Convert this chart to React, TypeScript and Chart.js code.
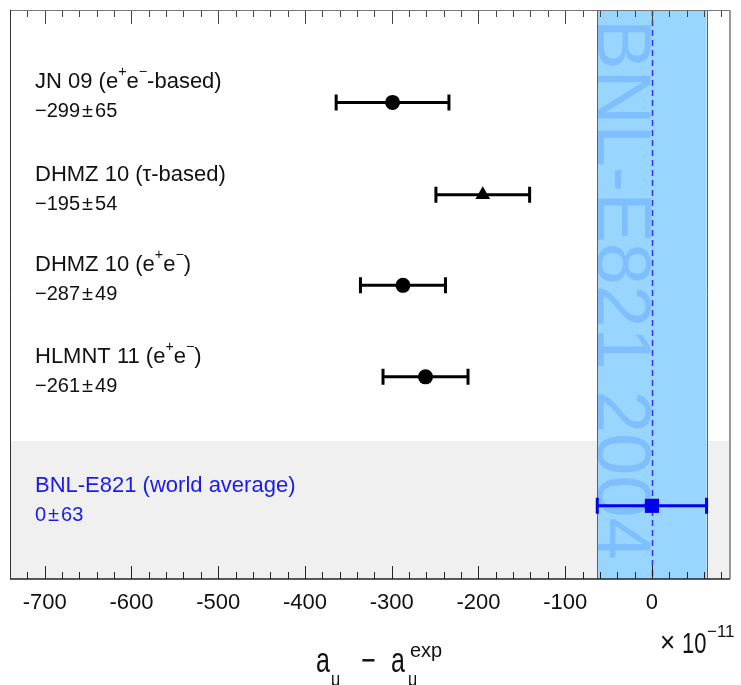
import React, { useEffect, useRef } from 'react';
import { Chart, registerables } from 'chart.js';

Chart.register(...registerables);

const FONT = '"Liberation Sans", Arial, Helvetica, sans-serif';

// ---- data ----
const CATEGORIES = [
  'JN 09 (e^{+}e^{\u2212}-based)',
  'DHMZ 10 (\u03c4-based)',
  'DHMZ 10 (e^{+}e^{\u2212})',
  'HLMNT 11 (e^{+}e^{\u2212})',
  'BNL-E821 (world average)',
];
const CENTRAL = [-299, -195, -287, -261, 0];
const ERRORS = [65, 54, 49, 49, 63];
const MARKERS = ['circle', 'triangle', 'circle', 'circle', 'rect'];
const X_TICKS = [-700, -600, -500, -400, -300, -200, -100, 0];
const BAND_LABEL = 'BNL-E821 2004';

// ---- layout / style ----
const X_MIN = -740;
const X_MAX = 90;
const Y_MAX = 6.22;
const ROW_POS = [1.01, 2.02, 3.01, 4.01, 5.42];
const GRAY_START = 4.71;
const COLORS = ['#000000', '#000000', '#000000', '#000000', '#0000ee'];
const LABEL_COLORS = ['#111111', '#111111', '#111111', '#111111', '#1a1aee'];
const RADII = [7.5, 8.5, 7.5, 7.5, 10];

function fmtVal(v: number) {
  return v < 0 ? '\u2212' + Math.abs(v) : String(v);
}

function drawRich(ctx: CanvasRenderingContext2D, text: string, x: number, y: number, size: number, color: string) {
  ctx.fillStyle = color;
  ctx.textBaseline = 'alphabetic';
  ctx.textAlign = 'left';
  const re = /\^\{([^}]*)\}|_\{([^}]*)\}|([^^_]+)/g;
  let m: RegExpExecArray | null;
  let cx = x;
  while ((m = re.exec(text))) {
    if (m[1] !== undefined) {
      ctx.font = `${size * 0.65}px ${FONT}`;
      ctx.fillText(m[1], cx, y - size * 0.55);
      cx += ctx.measureText(m[1]).width;
    } else if (m[2] !== undefined) {
      ctx.font = `${size * 0.65}px ${FONT}`;
      ctx.fillText(m[2], cx, y + size * 0.3);
      cx += ctx.measureText(m[2]).width;
    } else {
      ctx.font = `${size}px ${FONT}`;
      ctx.fillText(m[3], cx, y);
      cx += ctx.measureText(m[3]).width;
    }
  }
}

function drawValue(ctx: CanvasRenderingContext2D, c: number, e: number, x: number, y: number, size: number, color: string) {
  ctx.fillStyle = color;
  ctx.font = `${size}px ${FONT}`;
  ctx.textBaseline = 'alphabetic';
  ctx.textAlign = 'left';
  const parts = [fmtVal(c), '\u00b1', String(e)];
  let cx = x;
  parts.forEach((p, i) => {
    ctx.fillText(p, cx, y);
    cx += ctx.measureText(p).width + (i < 2 ? 2 : 0);
  });
}

function stretchedText(ctx: CanvasRenderingContext2D, t: string, x: number, y: number, size: number, sy: number) {
  ctx.save();
  ctx.translate(x, y);
  ctx.scale(1, sy);
  ctx.font = `${size}px ${FONT}`;
  ctx.fillText(t, 0, 0);
  ctx.restore();
}

const decor = {
  id: 'decor',
  beforeDatasetsDraw(chart: any) {
    const { ctx, chartArea: a, scales } = chart;
    const x = scales.x;
    const y = scales.y;
    ctx.save();
    const gy = y.getPixelForValue(GRAY_START);
    ctx.fillStyle = '#f0f0f0';
    ctx.fillRect(a.left, gy, a.right - a.left, a.bottom - gy);

    const bi = CENTRAL.length - 1;
    const bl = x.getPixelForValue(CENTRAL[bi] - ERRORS[bi]);
    const br = x.getPixelForValue(CENTRAL[bi] + ERRORS[bi]);
    ctx.fillStyle = '#99d6ff';
    ctx.fillRect(bl, a.top, br - bl, a.bottom - a.top);

    ctx.save();
    ctx.translate(bl + 1, a.top + 9);
    ctx.rotate(Math.PI / 2);
    ctx.font = `76px ${FONT}`;
    ctx.fillStyle = '#7fbfff';
    ctx.textBaseline = 'alphabetic';
    ctx.textAlign = 'left';
    ctx.fillText(BAND_LABEL, 0, 0);
    ctx.restore();

    ctx.strokeStyle = '#4d4dff';
    ctx.lineWidth = 1;
    [bl, br].forEach((px) => {
      ctx.beginPath();
      ctx.moveTo(Math.round(px) + 0.5, a.top);
      ctx.lineTo(Math.round(px) + 0.5, a.bottom);
      ctx.stroke();
    });
    const cx0 = Math.round(x.getPixelForValue(CENTRAL[bi])) + 0.5;
    ctx.strokeStyle = '#3333ff';
    ctx.lineWidth = 1.5;
    ctx.setLineDash([6, 4]);
    ctx.beginPath();
    ctx.moveTo(cx0, a.top);
    ctx.lineTo(cx0, a.bottom);
    ctx.stroke();
    ctx.setLineDash([]);

    // error bars
    CENTRAL.forEach((c, i) => {
      const xl = x.getPixelForValue(c - ERRORS[i]);
      const xr = x.getPixelForValue(c + ERRORS[i]);
      const yc = y.getPixelForValue(ROW_POS[i]);
      ctx.strokeStyle = COLORS[i];
      ctx.lineWidth = 3;
      ctx.beginPath();
      ctx.moveTo(xl, yc);
      ctx.lineTo(xr, yc);
      ctx.moveTo(xl, yc - 8);
      ctx.lineTo(xl, yc + 8);
      ctx.moveTo(xr, yc - 8);
      ctx.lineTo(xr, yc + 8);
      ctx.stroke();
    });
    ctx.restore();
  },
  afterDatasetsDraw(chart: any) {
    const { ctx, chartArea: a, scales } = chart;
    const x = scales.x;
    const y = scales.y;
    ctx.save();
    // ticks
    ctx.lineWidth = 1;
    for (let v = Math.ceil(X_MIN / 20) * 20; v <= X_MAX; v += 20) {
      const px = Math.round(x.getPixelForValue(v)) + 0.5;
      if (px <= a.left + 1 || px >= a.right - 1) continue;
      const major = v % 100 === 0;
      ctx.strokeStyle = '#222222';
      ctx.beginPath();
      ctx.moveTo(px, a.bottom);
      ctx.lineTo(px, a.bottom - (major ? 13 : 7));
      ctx.stroke();
      ctx.strokeStyle = '#444444';
      ctx.beginPath();
      ctx.moveTo(px, a.top);
      ctx.lineTo(px, a.top + (major ? 14 : 7));
      ctx.stroke();
    }
    // frame
    ctx.strokeStyle = '#777777';
    ctx.beginPath();
    ctx.moveTo(a.left, a.top + 0.5);
    ctx.lineTo(a.right, a.top + 0.5);
    ctx.stroke();
    ctx.strokeStyle = '#333333';
    ctx.beginPath();
    ctx.moveTo(a.left + 0.5, a.top);
    ctx.lineTo(a.left + 0.5, a.bottom);
    ctx.stroke();
    ctx.strokeStyle = '#999999';
    ctx.lineWidth = 2;
    ctx.beginPath();
    ctx.moveTo(a.right, a.top);
    ctx.lineTo(a.right, a.bottom);
    ctx.stroke();
    ctx.strokeStyle = '#222222';
    ctx.lineWidth = 1.5;
    ctx.beginPath();
    ctx.moveTo(a.left, a.bottom);
    ctx.lineTo(a.right, a.bottom);
    ctx.stroke();

    // row labels
    CATEGORIES.forEach((t, i) => {
      const yc = y.getPixelForValue(ROW_POS[i]);
      drawRich(ctx, t, 35, yc - 14, 22, LABEL_COLORS[i]);
      drawValue(ctx, CENTRAL[i], ERRORS[i], 35, yc + 15, 20, LABEL_COLORS[i]);
    });

    // axis title: a_mu - a_mu^exp
    ctx.fillStyle = '#111111';
    ctx.textBaseline = 'alphabetic';
    ctx.textAlign = 'left';
    stretchedText(ctx, 'a', 316, 672, 25, 1.4);
    stretchedText(ctx, '\u03bc', 331, 686, 16, 1.3);
    stretchedText(ctx, '\u2212', 361, 672, 25, 1.4);
    stretchedText(ctx, 'a', 391, 672, 25, 1.4);
    stretchedText(ctx, 'exp', 410, 657, 20, 1.05);
    stretchedText(ctx, '\u03bc', 408, 686, 16, 1.3);

    // x10^-11
    stretchedText(ctx, '\u00d7', 660, 652, 26, 1.15);
    stretchedText(ctx, '10', 682, 653, 22, 1.35);
    stretchedText(ctx, '\u221211', 707, 637, 17, 1.0);
    ctx.restore();
  },
};

export default function App() {
  const ref = useRef<HTMLCanvasElement | null>(null);
  useEffect(() => {
    if (!ref.current) return;
    const chart = new Chart(ref.current, {
      type: 'scatter',
      data: {
        datasets: [
          {
            data: CENTRAL.map((c, i) => ({ x: c, y: ROW_POS[i] })),
            pointStyle: MARKERS as any,
            pointRadius: RADII,
            backgroundColor: COLORS,
            borderColor: COLORS,
            borderWidth: 0,
          },
        ],
      },
      options: {
        animation: false,
        responsive: false,
        devicePixelRatio: 1,
        events: [],
        layout: { padding: { left: 9, right: 11, top: 5, bottom: 0 } },
        plugins: { legend: { display: false }, tooltip: { enabled: false } },
        scales: {
          x: {
            type: 'linear',
            min: X_MIN,
            max: X_MAX,
            afterBuildTicks: (s: any) => {
              s.ticks = X_TICKS.map((v) => ({ value: v }));
            },
            afterFit: (s: any) => {
              s.height = 106;
            },
            border: { display: false },
            grid: { display: false, drawTicks: false },
            ticks: {
              autoSkip: false,
              maxRotation: 0,
              padding: 11,
              color: '#111111',
              font: { family: FONT, size: 22 },
              callback: (v: any) => String(v),
            },
          },
          y: { type: 'linear', min: 0, max: Y_MAX, reverse: true, display: false },
        },
      },
      plugins: [decor],
    });
    return () => chart.destroy();
  }, []);
  return (
    <div style={{ position: 'absolute', left: 0, top: 0, width: 741, height: 685, background: '#ffffff' }}>
      <canvas ref={ref} width={741} height={685} style={{ display: 'block' }} />
    </div>
  );
}
